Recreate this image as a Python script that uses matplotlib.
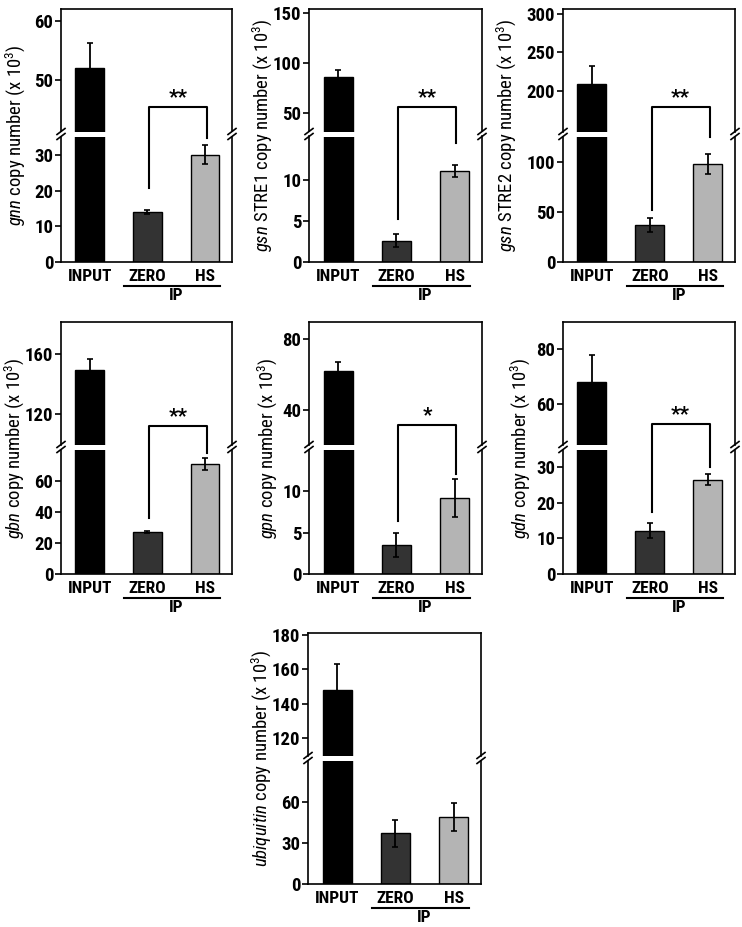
import matplotlib
matplotlib.use('Agg')
import matplotlib.pyplot as plt
from matplotlib.lines import Line2D
from matplotlib.transforms import ScaledTranslation

plt.rcParams['font.family'] = ['Roboto Condensed', 'DejaVu Sans']
plt.rcParams['mathtext.fontset'] = 'custom'
plt.rcParams['mathtext.rm'] = 'Roboto Condensed'
plt.rcParams['mathtext.it'] = 'Roboto Condensed:italic'

# categories
categories = ['INPUT', 'ZERO', 'HS']
bar_colors = ['#000000', '#333333', '#b4b4b4']

# values (x 10^3 copies)
gnn_mean = [52.0, 14.0, 30.2]
gnn_err = [4.3, 0.5, 2.7]
stre1_mean = [86.5, 2.6, 11.1]
stre1_err = [7.0, 0.8, 0.7]
stre2_mean = [209.0, 37.0, 98.0]
stre2_err = [24.0, 7.0, 10.0]
gbn_mean = [149.0, 27.2, 70.5]
gbn_err = [7.5, 0.7, 3.8]
gpn_mean = [62.0, 3.5, 9.2]
gpn_err = [5.0, 1.5, 2.3]
gdn_mean = [68.0, 12.2, 26.5]
gdn_err = [10.0, 2.1, 1.5]
ubq_mean = [148.0, 37.0, 49.0]
ubq_err = [15.0, 10.0, 10.3]

W, H = 742, 927
fig = plt.figure(figsize=(W / 100, H / 100), dpi=100)
fig.patch.set_facecolor('white')


def frac(x, y):
    return x / W, 1 - y / H


def rect(l, t, r, b):
    return [l / W, 1 - b / H, (r - l) / W, (b - t) / H]


def line_px(xs, ys, lw=1.2):
    fx = [x / W for x in xs]
    fy = [1 - y / H for y in ys]
    fig.add_artist(Line2D(fx, fy, transform=fig.transFigure, color='k', lw=lw))


# panel: label, means, errs, box(l,t,r,b), break y, upper lim/ticks, lower lim/ticks, label x, bracket
panels = [
    (r'$\mathit{gnn}$ copy number (x 10$^{\mathrm{3}}$)', gnn_mean, gnn_err,
     (61, 9, 232, 262), 134, (41.2, 62), [50, 60], (0, 35.3), [0, 10, 20, 30], 15,
     ('**', 45.4, 20.7, 35.0)),
    (r'$\mathit{gsn}$ STRE1 copy number (x 10$^{\mathrm{3}}$)', stre1_mean, stre1_err,
     (309, 9, 482, 262), 134, (31.7, 154), [50, 100, 150], (0, 15.3), [0, 5, 10], 262,
     ('**', 56.0, 5.3, 14.5)),
    (r'$\mathit{gsn}$ STRE2 copy number (x 10$^{\mathrm{3}}$)', stre2_mean, stre2_err,
     (563, 9, 735, 262), 134, (148, 306), [200, 250, 300], (0, 126), [0, 50, 100], 506,
     ('**', 180.0, 52.0, 125.0)),
    (r'$\mathit{gbn}$ copy number (x 10$^{\mathrm{3}}$)', gbn_mean, gbn_err,
     (61, 322, 232, 574), 447, (100, 181), [120, 160], (0, 80), [0, 20, 40, 60], 14,
     ('**', 112.0, 36.0, 77.7)),
    (r'$\mathit{gpn}$ copy number (x 10$^{\mathrm{3}}$)', gpn_mean, gpn_err,
     (309, 322, 482, 574), 447, (20.5, 89.3), [40, 80], (0, 15), [0, 5, 10], 267,
     ('*', 31.6, 6.4, 12.1)),
    (r'$\mathit{gdn}$ copy number (x 10$^{\mathrm{3}}$)', gdn_mean, gdn_err,
     (563, 322, 735, 574), 447, (45, 90), [60, 80], (0, 35), [0, 10, 20, 30], 520,
     ('**', 52.4, 17.3, 30.0)),
    (r'$\mathit{ubiquitin}$ copy number (x 10$^{\mathrm{3}}$)', ubq_mean, ubq_err,
     (308, 633, 481, 884), 758, (110, 181), [120, 140, 160, 180], (0, 90), [0, 30, 60], 261,
     None),
]

x = [0, 1, 2]
gap = 2.5

for (label, mean, err, box, brk, ulim, uticks, llim, lticks, lab_x, sig) in panels:
    l, t, r, b = box
    low = fig.add_axes(rect(l, brk + gap, r, b))
    up = fig.add_axes(rect(l, t, r, brk - gap))
    for ax, lim, ticks in ((low, llim, lticks), (up, ulim, uticks)):
        ax.patch.set_visible(False)
        ax.bar(x, mean, width=0.5, color=bar_colors, edgecolor='k', linewidth=1.0, zorder=2)
        ax.errorbar(x, mean, yerr=err, fmt='none', ecolor='k', elinewidth=1.3,
                    capsize=2, capthick=1.2, zorder=3)
        ax.set_xlim(-0.5, 2.47)
        ax.set_ylim(*lim)
        ax.set_yticks(ticks)
        ax.tick_params(axis='y', direction='out', length=4, width=1.2, pad=1.5, labelsize=13.5)
        for s in ax.spines.values():
            s.set_linewidth(1.2)
        for lab in ax.get_yticklabels():
            lab.set_fontweight('bold')
    up.spines['bottom'].set_visible(False)
    low.spines['top'].set_visible(False)
    up.set_xticks([])
    low.set_xticks(x, categories, fontsize=12.5, fontweight='bold')
    low.tick_params(axis='x', length=0, pad=5)

    # break marks on both side spines
    for sx in (l, r):
        for yy in (brk - gap, brk + gap):
            line_px([sx - 4, sx + 4], [yy + 3, yy - 3], lw=1.2)

    # IP group line and label
    tr_line = low.get_xaxis_transform() + ScaledTranslation(0, -0.24, fig.dpi_scale_trans)
    low.plot([0.6, 2.27], [0, 0], transform=tr_line, color='k', lw=1.5, clip_on=False)
    tr_ip = low.get_xaxis_transform() + ScaledTranslation(0, -0.33, fig.dpi_scale_trans)
    low.text(1.5, 0, 'IP', transform=tr_ip, ha='center', va='center',
             fontsize=12.5, fontweight='bold')

    # y label spanning both parts
    fx, fy = frac(lab_x, (t + b) / 2)
    fig.text(fx, fy, label, rotation=90, ha='center', va='center', fontsize=13.5)

    if sig is not None:
        star, y_top, l_end, r_end = sig
        disp = up.transData.transform([(0, y_top)])[0][1]
        y_low = low.transData.inverted().transform([(0, disp)])[0][1]
        low.plot([1.03, 1.03, 2.03, 2.03], [l_end, y_low, y_low, r_end], color='k',
                 lw=1.5, clip_on=False, zorder=4)
        up.text(1.53, y_top, star, ha='center', va='bottom', fontsize=15, fontweight='bold')

fig.savefig('out.png', dpi=100, facecolor='white')
